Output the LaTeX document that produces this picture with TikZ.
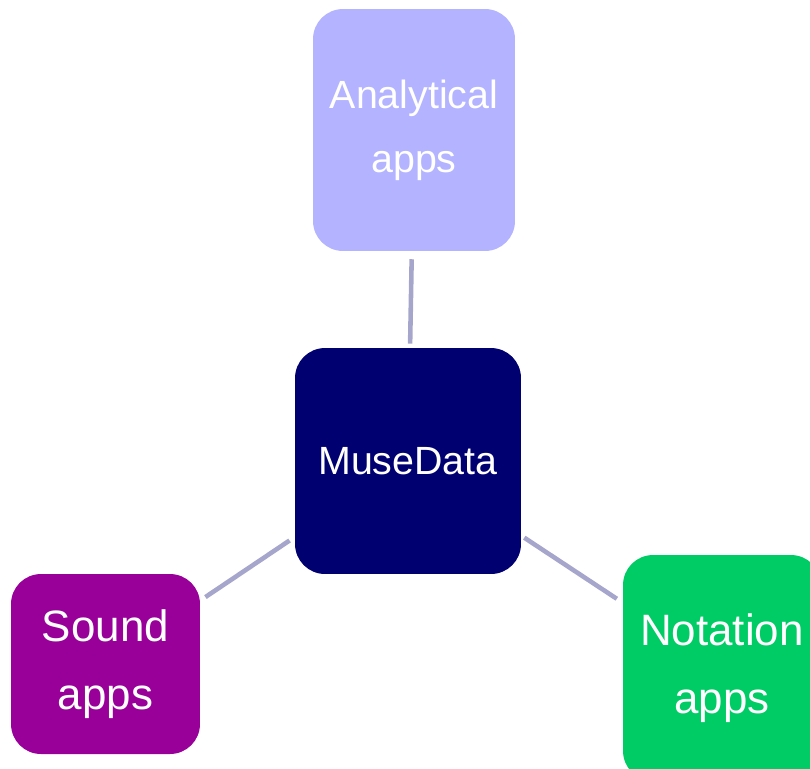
\documentclass[tikz,border=0pt]{standalone}
\usepackage{fontspec}
\setmainfont{Liberation Sans}
\usetikzlibrary{calc}

% colours of the boxes
\definecolor{analyticalcol}{HTML}{B3B3FF}
\definecolor{musecol}{HTML}{000070}
\definecolor{soundcol}{HTML}{990099}
\definecolor{notationcol}{HTML}{00CC66}
\definecolor{linkcol}{HTML}{A6A6CC}

\tikzset{
    appbox/.style={rectangle, rounded corners=0.6cm, text=white, align=center,
        inner sep=0pt, font=\fontsize{22.4pt}{36.5pt}\selectfont},
    bigtext/.style={font=\fontsize{25pt}{39pt}\selectfont},
    link/.style={draw=linkcol, line width=2.6pt, shorten <=3.5pt, shorten >=3.5pt}
}

\begin{document}
\begin{tikzpicture}[x=0.02cm, y=-0.02cm]
    \useasboundingbox (0,0) rectangle (810,768);

    % centre box
    \node[appbox, fill=musecol, minimum width=4.52cm, minimum height=4.52cm]
        (muse) at (408,461) {MuseData};

    % outer boxes
    \node[appbox, fill=analyticalcol, minimum width=4.04cm, minimum height=4.84cm]
        (analytical) at (414,130) {Analytical\\apps};
    \node[appbox, bigtext, fill=soundcol, minimum width=3.78cm, minimum height=3.6cm]
        (sound) at (105.5,664) {Sound\\apps};
    \node[appbox, bigtext, fill=notationcol, minimum width=3.96cm, minimum height=4.52cm]
        (notation) at (722,668) {Notation\\apps};

    % links
    \draw[link, shorten <=4.5pt, shorten >=2.3pt] (analytical) -- (muse);
    \draw[link] (muse) -- (sound);
    \draw[link, shorten <=2pt, shorten >=4pt] (muse) -- (notation);
\end{tikzpicture}
\end{document}
